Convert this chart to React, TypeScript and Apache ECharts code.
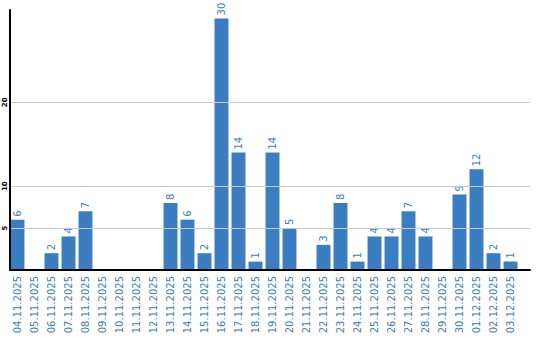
import React, { useEffect, useRef } from "react";
import * as echarts from "echarts";

const categories = [
  "04.11.2025", "05.11.2025", "06.11.2025", "07.11.2025", "08.11.2025",
  "09.11.2025", "10.11.2025", "11.11.2025", "12.11.2025", "13.11.2025",
  "14.11.2025", "15.11.2025", "16.11.2025", "17.11.2025", "18.11.2025",
  "19.11.2025", "20.11.2025", "21.11.2025", "22.11.2025", "23.11.2025",
  "24.11.2025", "25.11.2025", "26.11.2025", "27.11.2025", "28.11.2025",
  "29.11.2025", "30.11.2025", "01.12.2025", "02.12.2025", "03.12.2025",
];
const values = [
  6, 0, 2, 4, 7, 0, 0, 0, 0, 8,
  6, 2, 30, 14, 1, 14, 5, 0, 3, 8,
  1, 4, 4, 7, 4, 0, 9, 12, 2, 1,
];
const yTicks = [5, 10, 20];
const Y_MAX = 31;

const BLUE = "#3b7dc3";
const FONT = "DejaVu Sans";

export default function App() {
  const ref = useRef<HTMLDivElement>(null);
  useEffect(() => {
    const chart = echarts.init(ref.current!, null, { renderer: "svg" });
    chart.setOption({
      animation: false,
      grid: [
        { left: 9, right: 21, top: 10, bottom: 70, containLabel: false },
        { left: 10, right: 10, top: 10, bottom: 70, containLabel: false },
      ],
      xAxis: [
        {
          type: "category",
          gridIndex: 0,
          data: categories,
          axisLine: { show: false },
          axisTick: { show: false },
          axisLabel: {
            rotate: 90,
            color: BLUE,
            fontFamily: FONT,
            fontSize: 10,
            margin: 6,
            interval: 0,
          },
          z: 3,
        },
        {
          type: "value",
          gridIndex: 1,
          min: 0,
          max: 1,
          axisLine: { show: true, onZero: false, lineStyle: { color: "#000", width: 2 } },
          axisTick: { show: false },
          axisLabel: { show: false },
          splitLine: { show: false },
          z: 5,
        },
      ],
      yAxis: [
        {
          type: "value",
          gridIndex: 0,
          min: 0,
          max: Y_MAX,
          interval: 5,
          axisLine: { show: false },
          axisTick: { show: false },
          axisLabel: { show: false },
          splitLine: { show: false },
        },
        {
          type: "value",
          gridIndex: 1,
          min: 0,
          max: Y_MAX,
          interval: 5,
          axisLine: { show: true, onZero: false, lineStyle: { color: "#000", width: 2 } },
          axisTick: { show: false },
          splitLine: { show: false },
          axisLabel: {
            customValues: yTicks,
            rotate: 90,
            color: "#000",
            fontFamily: FONT,
            fontSize: 7,
            fontWeight: "bold",
            margin: 2,
          },
          z: 5,
        },
      ],
      series: [
        {
          type: "line",
          xAxisIndex: 1,
          yAxisIndex: 1,
          data: [[0, 0]],
          symbol: "none",
          lineStyle: { opacity: 0 },
          silent: true,
          z: 0,
          markLine: {
            silent: true,
            symbol: "none",
            label: { show: false },
            lineStyle: { color: "#c8c8c8", type: "solid", width: 1 },
            data: yTicks.map((v) => ({ yAxis: v })),
          },
        },
        {
          type: "bar",
          xAxisIndex: 0,
          yAxisIndex: 0,
          data: values,
          barCategoryGap: "18%",
          itemStyle: { color: BLUE },
          label: {
            show: true,
            position: "top",
            rotate: 90,
            align: "left",
            verticalAlign: "middle",
            distance: 3,
            color: BLUE,
            fontFamily: FONT,
            fontSize: 10,
            formatter: (p: any) => (p.value ? String(p.value) : ""),
          },
          z: 2,
        },
      ],
    });
    return () => chart.dispose();
  }, []);
  return <div ref={ref} style={{ width: 540, height: 340, position: "absolute", left: 0, top: 0 }} />;
}
